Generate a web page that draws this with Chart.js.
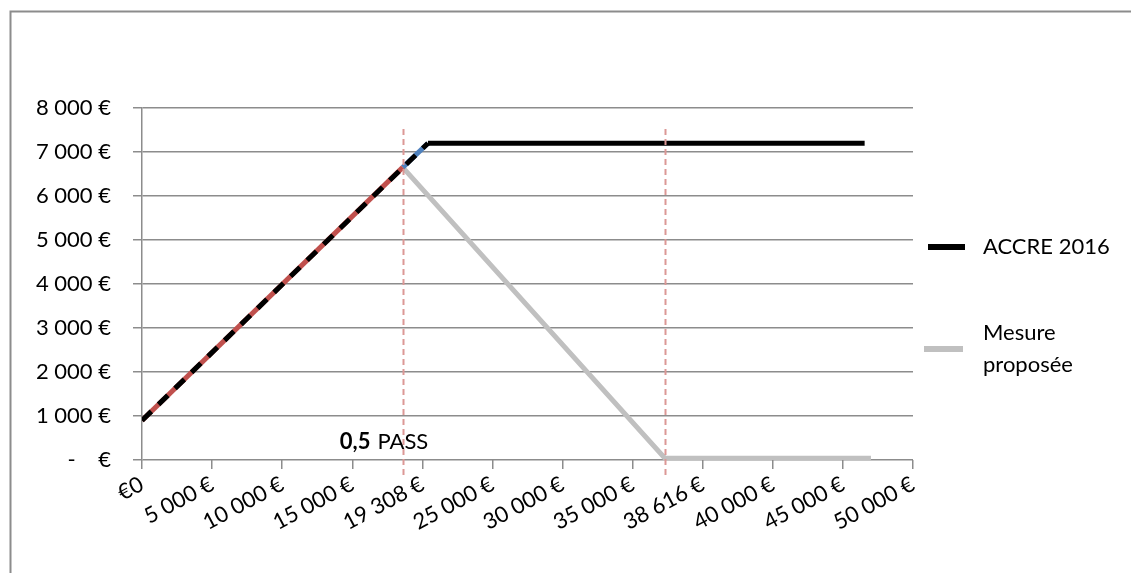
<!DOCTYPE html>
<html lang="fr">
<head>
    <meta charset="UTF-8">
    <title>ACCRE 2016 / Mesure proposée</title>
    <script src="https://cdn.jsdelivr.net/npm/chart.js"></script>
    <style>
        html, body { margin: 0; padding: 0; background: #fff; }
        canvas { display: block; }
    </style>
</head>
<body>
    <canvas id="accreChart" width="1131" height="573"></canvas>
    <script>
        // x axis labels (evenly spaced, like the original sheet)
        const xLabels = ['€0', '5 000 €', '10 000 €', '15 000 €', '19 308 €', '25 000 €',
                         '30 000 €', '35 000 €', '38 616 €', '40 000 €', '45 000 €', '50 000 €'];
        const yLabels = ['-    €', '1 000 €', '2 000 €', '3 000 €', '4 000 €',
                         '5 000 €', '6 000 €', '7 000 €', '8 000 €'];

        // series, x given as position along the label axis
        const accreX = [0, 4.08, 10.31];
        const accreY = [900, 7200, 7200];
        const mesureX = [3.72, 7.46, 10.4];
        const mesureY = [6650, 40, 40];
        const redX = [0, 3.72];
        const redY = [900, 6650];
        const blueX = [3.72, 4.08];
        const blueY = [6650, 7200];

        // the two "PASS" markers
        const passX = [3.72, 7.46];

        const FONT = 'Lato, "Liberation Sans", sans-serif';
        const GRID = '#8c8c8c';

        const pts = (xs, ys) => xs.map((x, i) => ({ x: x, y: ys[i] }));

        // frame around the whole thing
        const framePlugin = {
            id: 'frame',
            beforeDraw(chart) {
                const c = chart.ctx;
                c.save();
                c.strokeStyle = '#8c8c8c';
                c.lineWidth = 2;
                c.strokeRect(10.5, 11.5, 3000, 3000);
                c.restore();
            }
        };

        // dashed red verticals + "0,5 PASS" text
        const passPlugin = {
            id: 'pass',
            afterDatasetsDraw(chart) {
                const c = chart.ctx;
                const xs = chart.scales.x, ys = chart.scales.y;
                const top = ys.getPixelForValue(7520);
                const bottom = ys.getPixelForValue(0) + 18;
                c.save();
                c.strokeStyle = '#dc9896';
                c.lineWidth = 2;
                c.setLineDash([6, 4]);
                passX.forEach(v => {
                    const px = Math.round(xs.getPixelForValue(v)) + 0.5;
                    c.beginPath();
                    c.moveTo(px, top);
                    c.lineTo(px, bottom);
                    c.stroke();
                });
                c.setLineDash([]);
                const px = xs.getPixelForValue(passX[0]);
                const py = ys.getPixelForValue(0) - 11;
                c.fillStyle = '#000';
                c.textBaseline = 'alphabetic';
                c.textAlign = 'left';
                c.font = 'bold 22px ' + FONT;
                c.fillText('0,5', px - 63, py);
                const w = c.measureText('0,5').width + 7;
                c.font = '22px ' + FONT;
                c.fillText('PASS', px - 63 + w, py);
                c.restore();
            }
        };

        // legend on the right, with wrapped text
        const legendPlugin = {
            id: 'sideLegend',
            afterDraw(chart) {
                const c = chart.ctx;
                const x0 = chart.chartArea.right + 15;
                const items = chart.data.datasets.filter(d => d.inLegend);
                const rows = [247, 349];
                c.save();
                c.font = '22px ' + FONT;
                c.textBaseline = 'middle';
                items.forEach((d, i) => {
                    const y = rows[i];
                    c.fillStyle = d.borderColor;
                    c.fillRect(x0 - (i ? 4 : 0), y - 3, 37 + (i ? 2 : 0), 6);
                    c.fillStyle = '#000';
                    const lines = d.legendLines;
                    const lh = 32;
                    lines.forEach((t, j) => {
                        c.fillText(t, x0 + 55, y + (j - (lines.length - 1) / 2) * lh);
                    });
                });
                c.restore();
            }
        };

        const ctx = document.getElementById('accreChart').getContext('2d');
        new Chart(ctx, {
            type: 'line',
            data: {
                datasets: [
                    {
                        label: 'ACCRE 2016',
                        inLegend: true,
                        legendLines: ['ACCRE 2016'],
                        data: pts(accreX, accreY),
                        borderColor: '#000000',
                        borderWidth: 5,
                        order: 0,
                        segment: {
                            borderDash: c => c.p0DataIndex === 0 ? [13, 10] : undefined
                        }
                    },
                    {
                        label: 'Mesure proposée',
                        inLegend: true,
                        legendLines: ['Mesure', 'proposée'],
                        data: pts(mesureX, mesureY),
                        borderColor: '#c0c0c0',
                        borderWidth: 5,
                        order: 3
                    },
                    {
                        label: 'red',
                        data: pts(redX, redY),
                        borderColor: '#c0504d',
                        borderWidth: 5,
                        order: 1
                    },
                    {
                        label: 'blue',
                        data: pts(blueX, blueY),
                        borderColor: '#4f81bd',
                        borderWidth: 5,
                        order: 1
                    }
                ]
            },
            options: {
                responsive: false,
                animation: false,
                elements: {
                    point: { radius: 0 },
                    line: { tension: 0, borderCapStyle: 'butt', borderJoinStyle: 'miter', fill: false }
                },
                layout: { padding: { left: 10, right: 218, top: 108, bottom: 0 } },
                plugins: {
                    legend: { display: false },
                    tooltip: { enabled: false }
                },
                scales: {
                    x: {
                        type: 'linear',
                        min: 0,
                        max: 11,
                        afterFit: s => { s.height = 113; },
                        border: { display: false },
                        grid: {
                            drawOnChartArea: false,
                            drawTicks: true,
                            tickLength: 9,
                            color: GRID,
                            lineWidth: 1.5
                        },
                        ticks: {
                            stepSize: 1,
                            autoSkip: false,
                            minRotation: 28,
                            maxRotation: 28,
                            padding: 2,
                            color: '#000',
                            font: { family: FONT, size: 22 },
                            callback: v => xLabels[v]
                        }
                    },
                    y: {
                        min: 0,
                        max: 8000,
                        afterFit: s => { s.width = 132; },
                        border: { display: true, color: GRID, width: 1.5 },
                        grid: {
                            color: GRID,
                            lineWidth: 1.5,
                            tickLength: 9
                        },
                        ticks: {
                            stepSize: 1000,
                            padding: 22,
                            color: '#000',
                            font: { family: FONT, size: 22 },
                            callback: v => yLabels[v / 1000]
                        }
                    }
                }
            },
            plugins: [framePlugin, passPlugin, legendPlugin]
        });
    </script>
</body>
</html>
